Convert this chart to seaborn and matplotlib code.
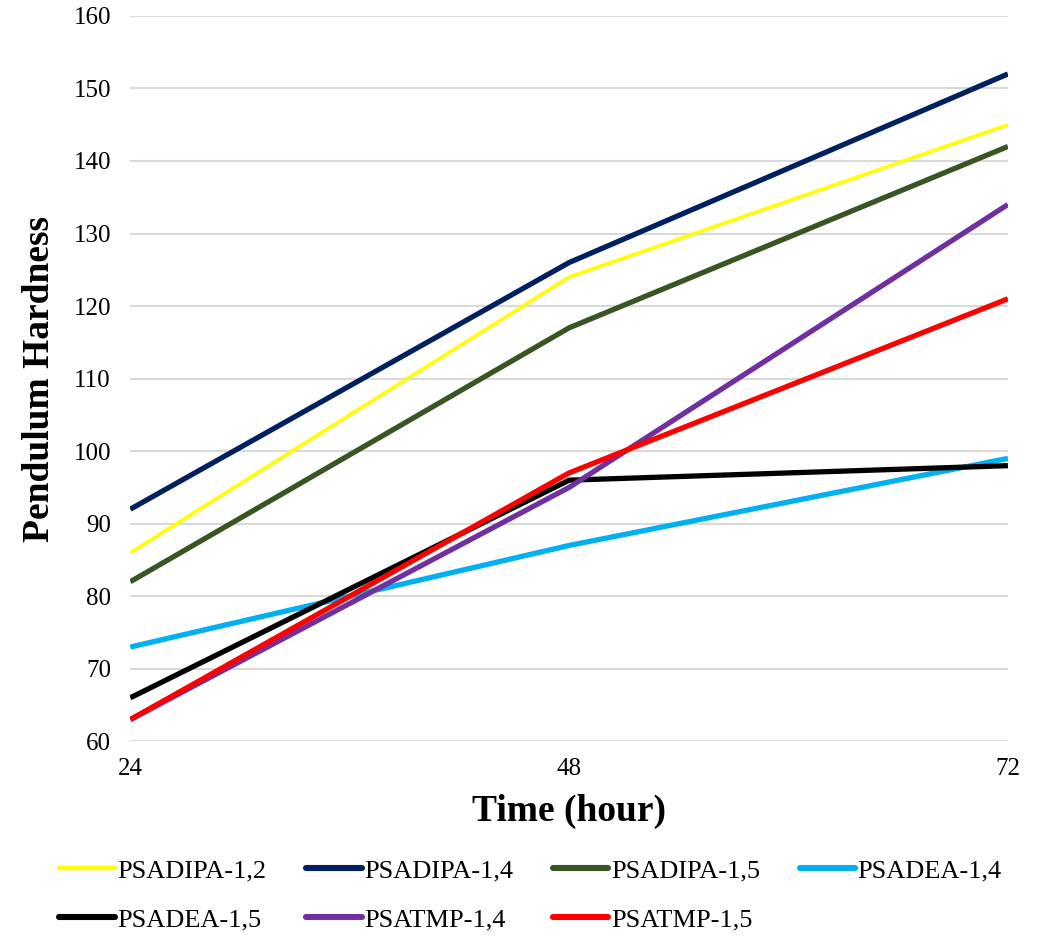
import matplotlib
matplotlib.use("Agg")
import matplotlib.pyplot as plt
import pandas as pd
import seaborn as sns

# hours of curing
time_hours = [24, 48, 72]

series_names = ["PSADIPA-1,2", "PSADIPA-1,4", "PSADIPA-1,5", "PSADEA-1,4",
                "PSADEA-1,5", "PSATMP-1,4", "PSATMP-1,5"]

psadipa_12 = [86, 124, 145]
psadipa_14 = [92, 126, 152]
psadipa_15 = [82, 117, 142]
psadea_14 = [73, 87, 99]
psadea_15 = [66, 96, 98]
psatmp_14 = [63, 95, 134]
psatmp_15 = [63, 97, 121]

colors = ["#FFFF00", "#002060", "#375623", "#00B0F0", "#000000", "#7030A0", "#FF0000"]
widths = [2.6, 3.8, 3.8, 3.8, 3.8, 3.8, 3.8]

all_values = [psadipa_12, psadipa_14, psadipa_15, psadea_14, psadea_15, psatmp_14, psatmp_15]
rows = []
for name, vals in zip(series_names, all_values):
    for t, v in zip(time_hours, vals):
        rows.append({"Time": t, "Hardness": v, "Sample": name})
df = pd.DataFrame(rows)

sns.set_style("white")
plt.rcParams["font.family"] = ["Liberation Serif", "DejaVu Serif"]
plt.rcParams["text.color"] = "black"
plt.rcParams["axes.labelcolor"] = "black"
plt.rcParams["xtick.color"] = "black"
plt.rcParams["ytick.color"] = "black"

fig = plt.figure(figsize=(10.51, 9.36), dpi=100)
ax = fig.add_axes([0.124, 0.208, 0.835, 0.775])

sns.lineplot(data=df, x="Time", y="Hardness", hue="Sample", hue_order=series_names,
             palette=colors, ax=ax, legend=False)
for line, lw in zip(ax.lines, widths):
    line.set_linewidth(lw)
    line.set_solid_capstyle("butt")

ax.set_xlim(24, 72)
ax.set_ylim(60, 160)
ax.set_xticks(time_hours)
ax.set_yticks(range(60, 161, 10))
ax.yaxis.grid(True, color="#D9D9D9", linewidth=1.5)
ax.set_axisbelow(True)
for s in ax.spines.values():
    s.set_visible(False)
ax.tick_params(axis="both", length=0, labelsize=18)
ax.tick_params(axis="x", pad=12)
ax.tick_params(axis="y", pad=14)

ax.set_xlabel("Time (hour)", fontsize=27, fontweight="bold", labelpad=10)
ax.set_ylabel("Pendulum Hardness", fontsize=27, fontweight="bold", labelpad=12)

# legend filled row by row (matplotlib fills columns first)
order = [0, 4, 1, 5, 2, 6, 3]
handles = [plt.Line2D([], [], color=colors[i], linewidth=widths[i] + 0.6) for i in order]
labels = [series_names[i] for i in order]
fig.legend(handles, labels, loc="lower left", ncol=4, frameon=False,
           fontsize=19, bbox_to_anchor=(0.034, -0.02), handlelength=2.1,
           handletextpad=0.1, columnspacing=1.5, labelspacing=0.95)

fig.savefig("out.png", dpi=100)
